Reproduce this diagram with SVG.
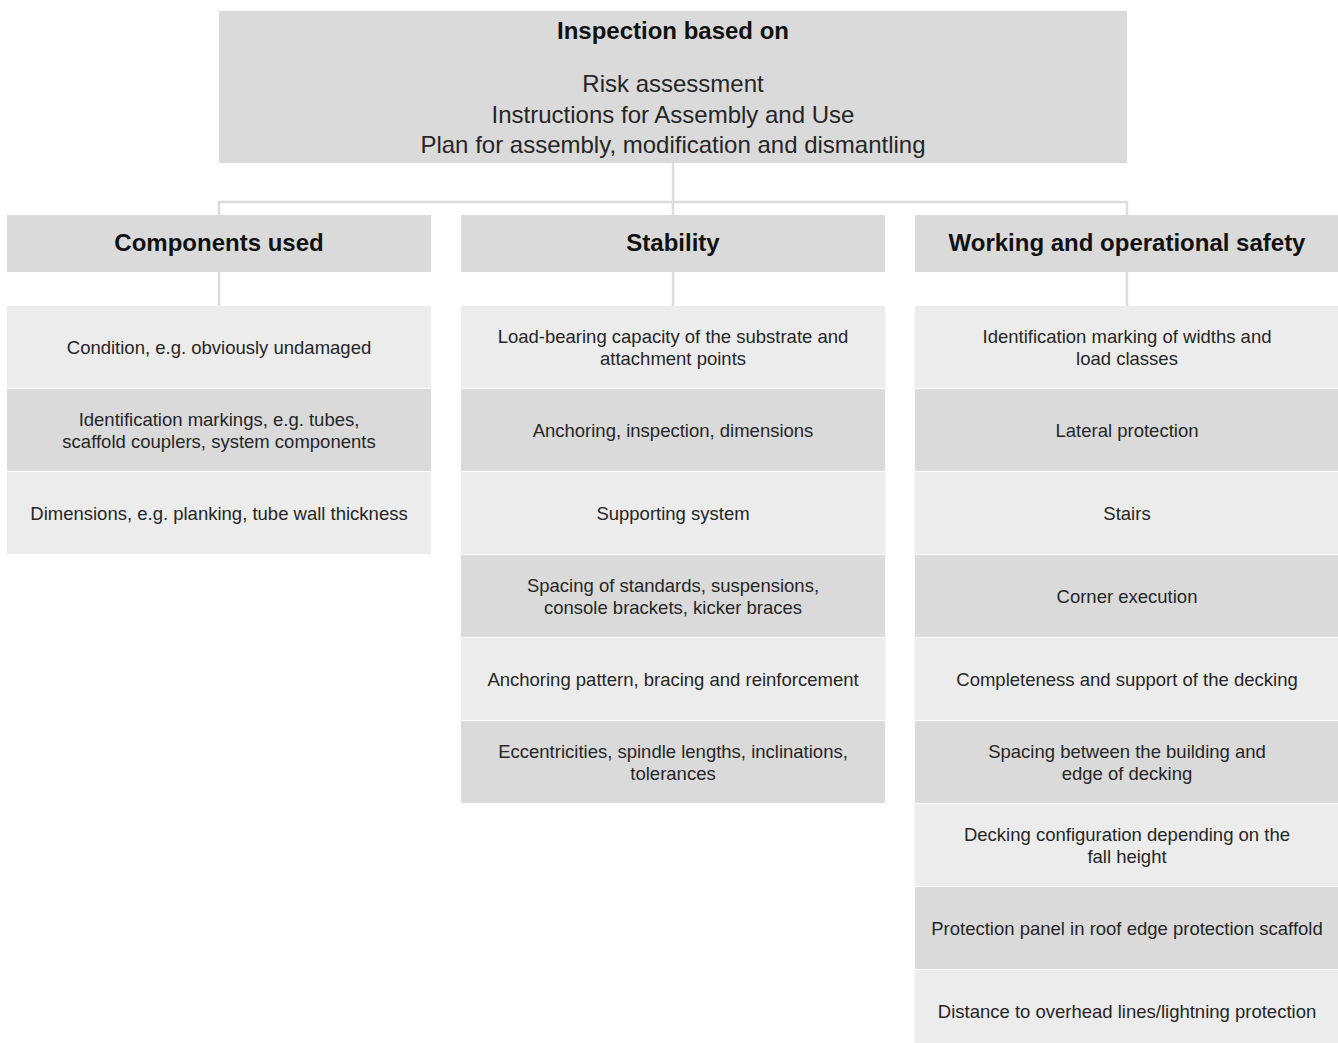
<svg xmlns="http://www.w3.org/2000/svg" width="1338" height="1043" viewBox="0 0 1338 1043">
<style>
.bg{fill:#ffffff}
.top{fill:#dadada}
.hdr{fill:#dadada}
.lt{fill:#ececec}
.dk{fill:#dadada}
.con{stroke:#dcdcdc;stroke-width:2.5;fill:none}
text{font-family:"Liberation Sans",Arial,sans-serif;fill:#262626;text-anchor:middle}
.b{font-weight:bold;font-size:24px;fill:#111}
.t{font-size:24px}
.s{font-size:18.5px}
</style>
<rect class="bg" x="0" y="0" width="1338" height="1043"/>
<g id="connectors">
<line class="con" x1="673" y1="163" x2="673" y2="215"/>
<polyline class="con" points="219,215 219,202 1127,202 1127,215"/>
<line class="con" x1="219" y1="272" x2="219" y2="306"/>
<line class="con" x1="673" y1="272" x2="673" y2="306"/>
<line class="con" x1="1127" y1="272" x2="1127" y2="306"/>
</g>
<g id="top">
<rect class="top" x="219" y="11" width="908" height="152"/>
<text class="b" x="673" y="39">Inspection based on</text>
<text class="t" x="673" y="92">Risk assessment</text>
<text class="t" x="673" y="122.5">Instructions for Assembly and Use</text>
<text class="t" x="673" y="153">Plan for assembly, modification and dismantling</text>
</g>
<g id="h1"><rect class="hdr" x="7" y="215" width="424" height="57"/><text class="b" x="219" y="251">Components used</text></g>
<g id="h2"><rect class="hdr" x="461" y="215" width="424" height="57"/><text class="b" x="673" y="251">Stability</text></g>
<g id="h3"><rect class="hdr" x="915" y="215" width="424" height="57"/><text class="b" x="1127" y="251">Working and operational safety</text></g>

<g id="c1r1"><rect class="lt" x="7" y="306" width="424" height="82"/><text class="s" x="219" y="354">Condition, e.g. obviously undamaged</text></g>
<g id="c1r2"><rect class="dk" x="7" y="389" width="424" height="82"/><text class="s" x="219" y="426">Identification markings, e.g. tubes,</text><text class="s" x="219" y="448">scaffold couplers, system components</text></g>
<g id="c1r3"><rect class="lt" x="7" y="472" width="424" height="82"/><text class="s" x="219" y="520">Dimensions, e.g. planking, tube wall thickness</text></g>

<g id="c2r1"><rect class="lt" x="461" y="306" width="424" height="82"/><text class="s" x="673" y="343">Load-bearing capacity of the substrate and</text><text class="s" x="673" y="365">attachment points</text></g>
<g id="c2r2"><rect class="dk" x="461" y="389" width="424" height="82"/><text class="s" x="673" y="437">Anchoring, inspection, dimensions</text></g>
<g id="c2r3"><rect class="lt" x="461" y="472" width="424" height="82"/><text class="s" x="673" y="520">Supporting system</text></g>
<g id="c2r4"><rect class="dk" x="461" y="555" width="424" height="82"/><text class="s" x="673" y="592">Spacing of standards, suspensions,</text><text class="s" x="673" y="614">console brackets, kicker braces</text></g>
<g id="c2r5"><rect class="lt" x="461" y="638" width="424" height="82"/><text class="s" x="673" y="686">Anchoring pattern, bracing and reinforcement</text></g>
<g id="c2r6"><rect class="dk" x="461" y="721" width="424" height="82"/><text class="s" x="673" y="758">Eccentricities, spindle lengths, inclinations,</text><text class="s" x="673" y="780">tolerances</text></g>

<g id="c3r1"><rect class="lt" x="915" y="306" width="424" height="82"/><text class="s" x="1127" y="343">Identification marking of widths and</text><text class="s" x="1127" y="365">load classes</text></g>
<g id="c3r2"><rect class="dk" x="915" y="389" width="424" height="82"/><text class="s" x="1127" y="437">Lateral protection</text></g>
<g id="c3r3"><rect class="lt" x="915" y="472" width="424" height="82"/><text class="s" x="1127" y="520">Stairs</text></g>
<g id="c3r4"><rect class="dk" x="915" y="555" width="424" height="82"/><text class="s" x="1127" y="603">Corner execution</text></g>
<g id="c3r5"><rect class="lt" x="915" y="638" width="424" height="82"/><text class="s" x="1127" y="686">Completeness and support of the decking</text></g>
<g id="c3r6"><rect class="dk" x="915" y="721" width="424" height="82"/><text class="s" x="1127" y="758">Spacing between the building and</text><text class="s" x="1127" y="780">edge of decking</text></g>
<g id="c3r7"><rect class="lt" x="915" y="804" width="424" height="82"/><text class="s" x="1127" y="841">Decking configuration depending on the</text><text class="s" x="1127" y="863">fall height</text></g>
<g id="c3r8"><rect class="dk" x="915" y="887" width="424" height="82"/><text class="s" x="1127" y="935">Protection panel in roof edge protection scaffold</text></g>
<g id="c3r9"><rect class="lt" x="915" y="970" width="424" height="73"/><text class="s" x="1127" y="1018">Distance to overhead lines/lightning protection</text></g>
</svg>
